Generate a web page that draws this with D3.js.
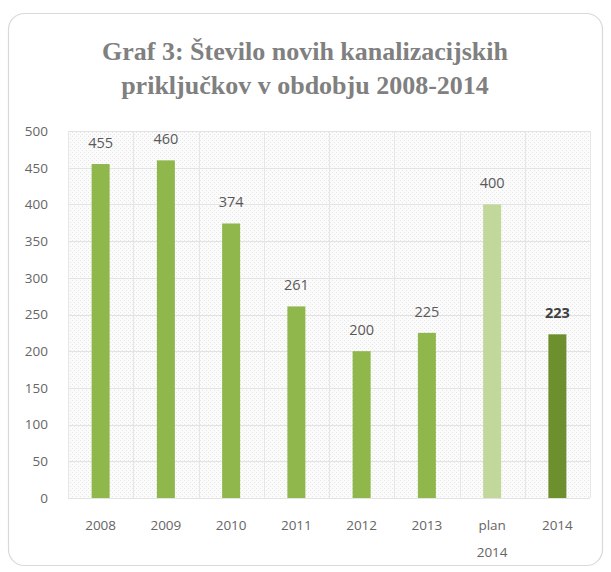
<!DOCTYPE html>
<html><head><meta charset="utf-8">
<script src="https://cdn.jsdelivr.net/npm/d3@7"></script>
<style>html,body{margin:0;padding:0;background:#fff;}</style>
</head><body>
<script>
const categories = ["2008","2009","2010","2011","2012","2013","plan\n2014","2014"];
const values = [455,460,374,261,200,225,400,223];
const barColors = ["#8fb74c","#8fb74c","#8fb74c","#8fb74c","#8fb74c","#8fb74c","#c2d89b","#6e8f2d"];
const yTicks = [0,50,100,150,200,250,300,350,400,450,500];
const titleLines = ["Graf 3: Število novih kanalizacijskih","priključkov v obdobju 2008-2014"];

const W=611,H=572;
const svg=d3.select("body").append("svg").attr("width",W).attr("height",H);
const defs=svg.append("defs");
const pat=defs.append("pattern").attr("id","dots").attr("width",4).attr("height",4).attr("patternUnits","userSpaceOnUse");
pat.append("rect").attr("width",4).attr("height",4).attr("fill","#fbfbfb");
pat.append("rect").attr("x",0).attr("y",0).attr("width",1).attr("height",1).attr("fill","#e6e6e6");
pat.append("rect").attr("x",2).attr("y",2).attr("width",1).attr("height",1).attr("fill","#e6e6e6");

svg.append("rect").attr("x",8.5).attr("y",13.5).attr("width",594).attr("height",552).attr("rx",16)
  .attr("fill","#fff").attr("stroke","#d9d9d9").attr("stroke-width",1.2);

const m={l:68,r:590,t:131,b:498};
const x=d3.scaleBand().domain(categories).range([m.l,m.r]).paddingInner(0).paddingOuter(0);
const y=d3.scaleLinear().domain([0,500]).range([m.b,m.t]);

svg.append("rect").attr("x",m.l).attr("y",m.t).attr("width",m.r-m.l).attr("height",m.b-m.t).attr("fill","url(#dots)");

// grid
svg.append("g").selectAll("line").data(yTicks).join("line")
  .attr("x1",m.l).attr("x2",m.r).attr("y1",d=>Math.round(y(d))+0.5).attr("y2",d=>Math.round(y(d))+0.5)
  .attr("stroke","#e3e3e3").attr("stroke-width",1);
svg.append("g").selectAll("line").data(categories).join("line")
  .attr("x1",d=>Math.round(x(d))+0.5).attr("x2",d=>Math.round(x(d))+0.5).attr("y1",m.t).attr("y2",m.b)
  .attr("stroke","#e6e6e6").attr("stroke-width",1);
svg.append("line").attr("x1",m.r+0.5).attr("x2",m.r+0.5).attr("y1",m.t).attr("y2",m.b).attr("stroke","#e6e6e6");

// y axis
const ya=svg.append("g").attr("transform",`translate(${m.l-20},0)`)
  .call(d3.axisLeft(y).tickValues(yTicks).tickSize(0).tickPadding(0));
ya.select(".domain").remove();
ya.selectAll("text").attr("font-family","Open Sans, sans-serif").attr("font-size",13.5).attr("fill","#666");

// bars
const bw=18;
svg.append("g").selectAll("rect").data(values).join("rect")
  .attr("x",(d,i)=>x(categories[i])+x.bandwidth()/2-bw/2).attr("width",bw)
  .attr("y",d=>y(d)).attr("height",d=>y(0)-y(d)).attr("fill",(d,i)=>barColors[i]);

// value labels
svg.append("g").selectAll("text").data(values).join("text")
  .attr("x",(d,i)=>x(categories[i])+x.bandwidth()/2).attr("y",d=>y(d)-16)
  .attr("text-anchor","middle").attr("font-family","Open Sans, sans-serif").attr("font-size",14.5)
  .attr("font-weight",(d,i)=>i===7?"bold":"normal")
  .attr("fill",(d,i)=>i===7?"#404040":"#595959").text(d=>d);

// x labels
const xl=svg.append("g").selectAll("text").data(categories).join("text")
  .attr("x",d=>x(d)+x.bandwidth()/2).attr("y",530).attr("text-anchor","middle")
  .attr("font-family","Open Sans, sans-serif").attr("font-size",13.5).attr("fill","#666");
xl.each(function(d){
  const t=d3.select(this);
  d.split("\n").forEach((s,i)=>t.append("tspan").attr("x",x(d)+x.bandwidth()/2).attr("dy",i?27:0).text(s));
});

// title
svg.append("g").selectAll("text").data(titleLines).join("text")
  .attr("x",305).attr("y",(d,i)=>60+i*34).attr("text-anchor","middle")
  .attr("font-family","Liberation Serif, serif").attr("font-weight","bold").attr("font-size",26)
  .attr("fill","#808080").text(d=>d);
</script>
</body></html>
